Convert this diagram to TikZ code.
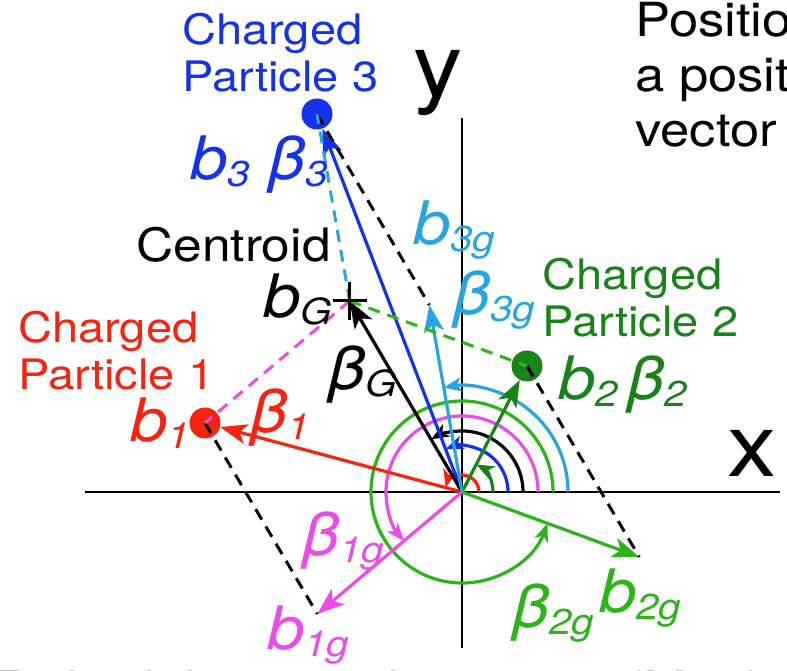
\documentclass[tikz,border=0pt]{standalone}
\usepackage{fontspec}
\setmainfont{TeX Gyre Heros}[FakeStretch=1.12]
\usetikzlibrary{arrows.meta, calc, angles}
\definecolor{pone}{RGB}{245,35,15}
\definecolor{ptwo}{RGB}{25,130,25}
\definecolor{pthree}{RGB}{20,50,235}
\definecolor{onegee}{RGB}{235,75,230}
\definecolor{twogee}{RGB}{45,180,25}
\definecolor{threegee}{RGB}{40,165,225}
\newcommand{\lowix}[1]{\raisebox{-7pt}{\fontsize{36}{36}\selectfont #1}}
\tikzset{
  axis/.style={line width=1.5pt},
  vec/.style={-{Stealth[length=27pt,width=20pt,inset=7pt]}, line width=3.2pt},
  guide/.style={dash pattern=on 12pt off 8pt, line width=3pt},
  anglearc/.style={draw, -{Stealth[length=18pt,width=14pt,inset=5pt]}, line width=3.2pt},
  particle/.style={circle, fill, minimum size=31pt, inner sep=0pt},
  pname/.style={font=\fontsize{42}{47}\selectfont, align=left, anchor=base west, inner sep=0pt},
  sym/.style={font=\fontsize{60}{60}\selectfont\itshape, anchor=base west, inner sep=0pt},
  axlabel/.style={font=\fontsize{88}{88}\selectfont, anchor=base west, inner sep=0pt},
  slide/.style={font=\fontsize{47}{55}\selectfont, align=left, anchor=base west, inner sep=0pt}
}

\begin{document}
\begin{tikzpicture}[x=1pt, y=1pt]
\useasboundingbox (-462,-179) rectangle (325,492);
\coordinate (O) at (0,0);
\coordinate (xleft) at (-377,0);
\coordinate (xend) at (318,0);
\coordinate (ytop) at (0,374);
\coordinate (ybot) at (0,-156);
\coordinate (c1) at (-257,69);
\coordinate (c2) at (65,126);
\coordinate (c3) at (-145,378);
\coordinate (G) at (barycentric cs:c1=1,c2=1,c3=1);
\coordinate (g1) at ($(c1)-(G)$);
\coordinate (g2) at ($(c2)-(G)$);
\coordinate (g3) at ($(c3)-(G)$);

\draw[axis] (xleft) -- (xend);
\draw[axis] (ybot) -- (ytop);

\pic[anglearc, pone, angle radius=17pt] {angle=xend--O--c1};
\pic[anglearc, ptwo, angle radius=31pt] {angle=xend--O--c2};
\pic[anglearc, pthree, angle radius=46pt] {angle=xend--O--c3};
\pic[anglearc, black, angle radius=61pt] {angle=xend--O--G};
\pic[anglearc, onegee, angle radius=76pt] {angle=xend--O--g1};
\pic[anglearc, twogee, angle radius=91pt] {angle=xend--O--g2};
\pic[anglearc, threegee, angle radius=106pt] {angle=xend--O--g3};

\node[particle, pone] (p1) at (c1) {};
\node[particle, ptwo] (p2) at (c2) {};
\node[particle, pthree] (p3) at (c3) {};

\draw[vec, pone] (O) -- (p1);
\draw[vec, ptwo] (O) -- (p2);
\draw[vec, pthree] (O) -- (p3);
\draw[vec, black] (O) -- (G);
\draw[vec, onegee] (O) -- (g1);
\draw[vec, twogee] (O) -- (g2);
\draw[vec, threegee] (O) -- (g3);

\draw[guide, black] (p1.center) -- (g1);
\draw[guide, black] (p2.center) -- (g2);
\draw[guide, black] (p3.center) -- (g3);
\draw[guide, onegee] (G) -- (p1.center);
\draw[guide, twogee] (G) -- (p2.center);
\draw[guide, threegee] (G) -- (p3.center);
\draw[line width=3pt] ($(G)+(-17,0)$) -- ($(G)+(17,0)$);
\draw[line width=3pt] ($(G)+(0,-19)$) -- ($(G)+(0,19)$);

\node[pname, pthree] (name3) at (-280,400) {Charged\\Particle 3};
\node[pname, pone] (name1) at (-444,102) {Charged\\Particle 1};
\node[pname, ptwo] (name2) at (80,155) {Charged\\Particle 2};
\node[pname, font=\fontsize{46}{50}\selectfont] (cname) at (-326,230) {Centroid};

\node[sym, pthree] (b3) at (-272,312) {b\lowix{3} β\lowix{3}};
\node[sym, threegee] (b3g) at (-49,247) {b\lowix{3g}};
\node[sym, threegee] (beta3g) at (-9,177) {β\lowix{3g}};
\node[sym] (bG) at (-199,174) {b\lowix{G}};
\node[sym] (betaG) at (-134,102) {β\lowix{G}};
\node[sym, pone] (b1) at (-332,50) {b\lowix{1}};
\node[sym, pone] (beta1) at (-212,59) {β\lowix{1}};
\node[sym, ptwo] (b2) at (96,92) {b\lowix{2}\,β\lowix{2}};
\node[sym, onegee] (beta1g) at (-160,-64) {β\lowix{1g}};
\node[sym, onegee] (b1g) at (-195,-158) {b\lowix{1g}};
\node[sym, twogee] (beta2g) at (50,-136) {β\lowix{2g}};
\node[sym, twogee] (b2g) at (137,-121) {b\lowix{2g}};

\node[axlabel] (xlabel) at (265,15) {x};
\node[axlabel] (ylabel) at (-49,395) {y};

\node[slide] (note) at (173,345) {Position\\a position\\vector};
\node[slide] (caption) at (-474,-214) {Embed the particle vectors (M=3)};
\end{tikzpicture}
\end{document}
